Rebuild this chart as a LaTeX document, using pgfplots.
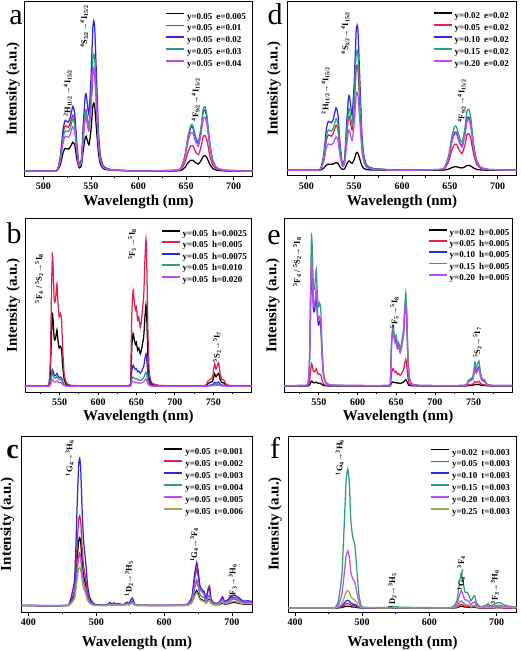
\documentclass[border=0pt]{standalone}
\usepackage{fontspec}
\setmainfont{Liberation Serif}
\usepackage{pgfplots}
\usepackage{pgfplotstable}
\pgfplotsset{compat=1.18}
\definecolor{cR}{HTML}{E41E50}
\definecolor{cB}{HTML}{2A2AE6}
\definecolor{cG}{HTML}{2E9E7C}
\definecolor{cP}{HTML}{C04CF2}
\definecolor{cO}{HTML}{9AA65A}
\newcommand{\LL}[2]{#1\hspace{4pt}#2}
\newcommand{\an}{\bfseries\fontsize{8.5}{9}\selectfont}

\pgfplotstableread{
x k r b g p
480 0 0 0 0 0
510 0 0 0 0 0
515 0.005 0.009 0.01 0.008 0.007
518 0.04 0.08 0.09 0.07 0.062
521 0.11 0.225 0.25 0.2 0.17
523 0.13 0.26 0.29 0.23 0.2
526 0.125 0.25 0.28 0.225 0.193
528 0.135 0.27 0.30 0.24 0.207
531 0.165 0.32 0.37 0.30 0.255
533 0.15 0.29 0.33 0.265 0.228
535 0.075 0.14 0.17 0.135 0.117
537 0.027 0.045 0.06 0.047 0.041
538 0.018 0.03 0.04 0.031 0.028
540 0.03 0.05 0.07 0.055 0.048
542 0.12 0.2 0.27 0.21 0.186
544 0.19 0.33 0.43 0.335 0.297
545 0.2 0.35 0.44 0.34 0.304
547 0.16 0.27 0.35 0.27 0.242
548 0.15 0.25 0.33 0.257 0.228
550 0.23 0.36 0.52 0.405 0.359
552 0.37 0.55 0.82 0.64 0.566
553 0.39 0.58 0.86 0.67 0.593
554 0.37 0.55 0.82 0.64 0.566
556 0.23 0.35 0.52 0.405 0.359
558 0.10 0.15 0.22 0.17 0.152
560 0.04 0.06 0.09 0.07 0.062
563 0.014 0.02 0.03 0.023 0.021
570 0.005 0.007 0.01 0.008 0.007
600 0 0 0 0 0
640 0.001 0.003 0.005 0.005 0.004
645 0.005 0.012 0.02 0.021 0.018
649 0.022 0.052 0.09 0.095 0.079
652 0.048 0.11 0.19 0.2 0.167
655 0.062 0.145 0.25 0.263 0.22
657 0.062 0.145 0.25 0.263 0.22
660 0.048 0.11 0.19 0.2 0.167
663 0.04 0.093 0.16 0.168 0.141
666 0.062 0.145 0.25 0.263 0.22
668 0.085 0.197 0.34 0.357 0.299
670 0.088 0.203 0.35 0.368 0.308
672 0.075 0.174 0.30 0.315 0.264
675 0.038 0.087 0.15 0.158 0.132
678 0.015 0.035 0.06 0.063 0.053
682 0.005 0.012 0.02 0.021 0.018
690 0.001 0.003 0.005 0.005 0.004
720 0 0 0 0 0
}\tabA

\pgfplotstableread{
x k r b g p
480 0 0 0 0 0
510 0 0 0 0 0
515 0.001 0.007 0.01 0.008 0.005
518 0.011 0.063 0.087 0.072 0.047
521 0.03 0.175 0.243 0.2 0.13
523 0.035 0.203 0.281 0.232 0.151
526 0.034 0.196 0.272 0.224 0.146
528 0.036 0.21 0.291 0.24 0.156
531 0.044 0.259 0.359 0.296 0.192
533 0.04 0.231 0.32 0.264 0.172
535 0.02 0.119 0.165 0.136 0.088
537 0.007 0.042 0.058 0.048 0.031
538 0.005 0.028 0.039 0.032 0.021
540 0.008 0.049 0.068 0.056 0.036
542 0.032 0.189 0.262 0.216 0.14
544 0.052 0.301 0.417 0.344 0.224
545 0.053 0.308 0.427 0.352 0.229
547 0.042 0.245 0.34 0.28 0.182
548 0.04 0.231 0.32 0.264 0.172
550 0.062 0.364 0.504 0.416 0.27
552 0.098 0.574 0.795 0.656 0.426
553 0.103 0.602 0.834 0.688 0.447
554 0.098 0.574 0.795 0.656 0.426
556 0.062 0.364 0.504 0.416 0.27
558 0.026 0.154 0.213 0.176 0.114
560 0.011 0.063 0.087 0.072 0.047
563 0.004 0.021 0.029 0.024 0.016
570 0.001 0.007 0.01 0.008 0.005
600 0 0 0 0 0
640 0 0.003 0.004 0.005 0.004
645 0.002 0.012 0.017 0.02 0.017
649 0.007 0.054 0.078 0.09 0.075
652 0.015 0.114 0.165 0.19 0.158
655 0.02 0.15 0.218 0.25 0.208
657 0.02 0.15 0.218 0.25 0.208
660 0.015 0.114 0.165 0.19 0.158
663 0.013 0.096 0.139 0.16 0.133
666 0.02 0.15 0.218 0.25 0.208
668 0.027 0.204 0.296 0.34 0.282
670 0.028 0.21 0.305 0.35 0.291
672 0.024 0.18 0.261 0.30 0.249
675 0.012 0.09 0.131 0.15 0.125
678 0.005 0.036 0.052 0.06 0.05
682 0.002 0.012 0.017 0.02 0.017
690 0 0.003 0.004 0.005 0.004
720 0 0 0 0 0
}\tabD

\pgfplotstableread{
x k r b g p
505 0 0 0 0 0
530 0.002 0.003 0 0 0
536 0.006 0.01 0.001 0.001 0
538 0.083 0.15 0.019 0.014 0.008
539.5 0.303 0.55 0.069 0.052 0.028
540.6 0.42 0.765 0.096 0.073 0.038
541.5 0.385 0.70 0.088 0.067 0.035
543 0.275 0.50 0.063 0.048 0.025
544.5 0.27 0.49 0.061 0.047 0.025
546.6 0.325 0.59 0.074 0.056 0.03
548 0.26 0.47 0.059 0.045 0.024
549.5 0.22 0.40 0.05 0.038 0.02
551 0.23 0.42 0.053 0.04 0.021
552.5 0.215 0.39 0.049 0.037 0.02
554 0.121 0.22 0.028 0.021 0.011
556 0.039 0.07 0.009 0.007 0.004
559 0.011 0.02 0.003 0.002 0.001
565 0.003 0.005 0.001 0 0
600 0.001 0.002 0 0 0
640 0.003 0.005 0.001 0 0
642.5 0.028 0.05 0.011 0.005 0.003
644 0.231 0.42 0.092 0.04 0.021
645.7 0.305 0.555 0.122 0.053 0.028
647 0.275 0.50 0.11 0.048 0.025
648.7 0.242 0.44 0.097 0.042 0.022
650 0.253 0.46 0.101 0.044 0.023
651.5 0.209 0.38 0.084 0.036 0.019
653 0.22 0.40 0.088 0.038 0.02
655 0.187 0.34 0.075 0.032 0.017
656.5 0.209 0.38 0.084 0.036 0.019
658 0.248 0.45 0.099 0.043 0.023
659.5 0.286 0.52 0.114 0.049 0.026
661 0.396 0.72 0.158 0.068 0.036
662.4 0.468 0.85 0.187 0.081 0.043
663.5 0.385 0.70 0.154 0.067 0.035
665 0.165 0.30 0.066 0.029 0.015
666.7 0.044 0.08 0.018 0.008 0.004
670 0.011 0.02 0.004 0.002 0.001
680 0.003 0.005 0.001 0 0
720 0.001 0.002 0 0 0
740 0.003 0.005 0.001 0 0
743 0.017 0.03 0.005 0.003 0.002
746 0.022 0.04 0.007 0.004 0.002
749 0.028 0.05 0.009 0.005 0.003
751.7 0.072 0.13 0.023 0.012 0.007
753.5 0.055 0.10 0.018 0.01 0.005
756.9 0.075 0.136 0.024 0.013 0.007
759 0.039 0.07 0.013 0.007 0.004
761 0.022 0.04 0.007 0.004 0.002
764 0.019 0.035 0.006 0.003 0.002
767 0.006 0.01 0.002 0.001 0.001
775 0.002 0.003 0.001 0 0
800 0.001 0.002 0 0 0
}\tabB

\pgfplotstableread{
x k r b g p
505 0 0 0 0 0
530 0 0.001 0.003 0.003 0.003
536 0 0.002 0.009 0.011 0.01
538 0.006 0.025 0.132 0.171 0.143
539.5 0.02 0.092 0.484 0.627 0.523
540.6 0.028 0.128 0.673 0.872 0.727
541.5 0.026 0.117 0.616 0.798 0.665
543 0.019 0.084 0.44 0.57 0.475
544.5 0.018 0.082 0.431 0.559 0.466
546.6 0.022 0.099 0.519 0.673 0.561
548 0.017 0.078 0.414 0.536 0.447
549.5 0.015 0.067 0.352 0.456 0.38
551 0.016 0.07 0.37 0.479 0.399
552.5 0.014 0.065 0.343 0.445 0.371
554 0.008 0.037 0.194 0.251 0.209
556 0.003 0.012 0.062 0.08 0.067
559 0.001 0.003 0.018 0.023 0.019
565 0 0.001 0.004 0.006 0.005
600 0 0 0.002 0.002 0.002
640 0 0.001 0.003 0.003 0.003
642.5 0.002 0.009 0.03 0.032 0.028
644 0.018 0.076 0.248 0.265 0.235
645.7 0.023 0.1 0.327 0.35 0.311
647 0.021 0.09 0.295 0.315 0.28
648.7 0.018 0.079 0.26 0.277 0.246
650 0.019 0.083 0.271 0.29 0.258
651.5 0.016 0.068 0.224 0.239 0.213
653 0.017 0.072 0.236 0.252 0.224
655 0.014 0.061 0.201 0.214 0.19
656.5 0.016 0.068 0.224 0.239 0.213
658 0.019 0.081 0.266 0.284 0.252
659.5 0.022 0.094 0.307 0.328 0.291
661 0.03 0.13 0.425 0.454 0.403
662.4 0.036 0.153 0.502 0.536 0.476
663.5 0.029 0.126 0.413 0.441 0.392
665 0.013 0.054 0.177 0.189 0.168
666.7 0.003 0.014 0.047 0.05 0.045
670 0.001 0.004 0.012 0.013 0.011
680 0 0.001 0.003 0.003 0.003
720 0 0 0.001 0.001 0.001
740 0 0.001 0.004 0.005 0.004
743 0.002 0.006 0.024 0.032 0.022
746 0.003 0.008 0.032 0.042 0.03
749 0.004 0.01 0.041 0.053 0.037
751.7 0.009 0.026 0.105 0.138 0.096
753.5 0.007 0.02 0.081 0.106 0.074
756.9 0.01 0.027 0.11 0.144 0.101
759 0.005 0.014 0.057 0.074 0.052
761 0.003 0.008 0.032 0.042 0.03
764 0.002 0.007 0.028 0.037 0.026
767 0.001 0.002 0.008 0.011 0.007
775 0 0.001 0.002 0.003 0.002
800 0 0 0.002 0.002 0.001
}\tabE

\pgfplotstableread{
x k r b g p o
390 0 0 0 0 0 0
455 0 0 0 0 0 0
460 0.005 0.006 0.01 0.004 0.003 0.003
463 0.023 0.031 0.05 0.018 0.017 0.013
466 0.046 0.061 0.10 0.036 0.034 0.026
468 0.069 0.092 0.15 0.054 0.051 0.039
470 0.161 0.214 0.35 0.126 0.119 0.091
472 0.276 0.366 0.60 0.216 0.204 0.156
474 0.368 0.488 0.80 0.288 0.272 0.208
475.5 0.385 0.51 0.836 0.301 0.284 0.217
477 0.359 0.476 0.78 0.281 0.265 0.203
479 0.253 0.336 0.55 0.198 0.187 0.143
481 0.175 0.232 0.38 0.137 0.129 0.099
483 0.138 0.183 0.30 0.108 0.102 0.078
485 0.101 0.134 0.22 0.079 0.075 0.057
487 0.055 0.073 0.12 0.043 0.041 0.031
490 0.023 0.031 0.05 0.018 0.017 0.013
495 0.007 0.009 0.015 0.005 0.005 0.004
500 0.002 0.003 0.005 0.002 0.002 0.001
515 0.001 0.002 0.003 0.002 0.002 0.001
520 0.007 0.011 0.018 0.009 0.009 0.005
523 0.003 0.005 0.008 0.004 0.004 0.002
526 0.006 0.01 0.016 0.008 0.008 0.005
529 0.003 0.005 0.008 0.004 0.004 0.002
532 0.005 0.007 0.012 0.006 0.006 0.004
540 0.002 0.003 0.005 0.003 0.003 0.002
545 0.008 0.012 0.02 0.01 0.01 0.006
548 0.005 0.007 0.012 0.006 0.006 0.004
553 0.017 0.026 0.043 0.022 0.022 0.013
556 0.006 0.009 0.015 0.008 0.008 0.005
560 0.001 0.002 0.003 0.002 0.002 0.001
600 0.001 0.001 0.002 0.001 0.001 0.001
630 0.001 0.003 0.003 0.002 0.002 0.001
636 0.005 0.013 0.015 0.008 0.009 0.005
641 0.018 0.043 0.05 0.028 0.03 0.015
645 0.063 0.153 0.18 0.099 0.108 0.054
648 0.086 0.208 0.245 0.135 0.147 0.074
650 0.07 0.17 0.20 0.11 0.12 0.06
653 0.039 0.094 0.11 0.061 0.09 0.033
656 0.032 0.077 0.09 0.05 0.08 0.027
659 0.028 0.068 0.08 0.044 0.06 0.024
662 0.014 0.034 0.04 0.022 0.024 0.012
665 0.032 0.10 0.09 0.05 0.054 0.027
667 0.035 0.113 0.10 0.055 0.06 0.03
669 0.014 0.04 0.04 0.022 0.024 0.012
673 0.005 0.013 0.015 0.008 0.009 0.005
680 0.005 0.012 0.015 0.009 0.011 0.006
683 0.009 0.024 0.03 0.018 0.021 0.012
686 0.015 0.04 0.05 0.03 0.035 0.02
689 0.008 0.02 0.025 0.015 0.018 0.01
693 0.009 0.024 0.03 0.018 0.021 0.012
698 0.015 0.04 0.05 0.03 0.035 0.02
703 0.018 0.048 0.06 0.036 0.042 0.024
708 0.015 0.04 0.05 0.03 0.035 0.02
713 0.011 0.028 0.035 0.021 0.025 0.014
718 0.008 0.02 0.025 0.015 0.018 0.01
723 0.008 0.022 0.028 0.017 0.02 0.011
727 0.008 0.02 0.025 0.015 0.018 0.01
730 0.007 0.018 0.022 0.013 0.015 0.009
}\tabC

\pgfplotstableread{
x k r b g p o
390 0 0 0 0 0 0
455 0 0 0 0 0 0
460 0 0 0 0.005 0.002 0.001
464 0 0.001 0.002 0.03 0.012 0.004
467 0.001 0.003 0.006 0.10 0.041 0.013
470 0.003 0.006 0.011 0.20 0.082 0.025
473 0.006 0.014 0.025 0.45 0.185 0.057
476 0.009 0.023 0.04 0.72 0.295 0.091
478.5 0.01 0.025 0.044 0.79 0.324 0.10
481 0.009 0.022 0.039 0.70 0.287 0.089
483 0.007 0.016 0.028 0.50 0.205 0.064
486 0.005 0.013 0.022 0.40 0.164 0.051
489 0.005 0.012 0.02 0.36 0.148 0.046
492 0.003 0.007 0.012 0.22 0.09 0.028
495 0.001 0.003 0.004 0.08 0.033 0.01
498 0 0.001 0.001 0.02 0.008 0.003
502 0 0 0 0.004 0.002 0.001
540 0 0 0 0.003 0.001 0
548 0.002 0 0 0.008 0.003 0.001
553 0.002 0 0 0.006 0.002 0.001
557 0 0 0 0.004 0.002 0
600 0 0 0 0.002 0.001 0
630 0 0 0 0.002 0.001 0
636 0 0 0.002 0.01 0.005 0.002
641 0.002 0.004 0.008 0.04 0.02 0.008
645 0.008 0.015 0.03 0.15 0.075 0.03
647.5 0.01 0.02 0.04 0.20 0.10 0.04
650 0.008 0.015 0.03 0.15 0.075 0.03
653 0.005 0.009 0.018 0.09 0.045 0.018
656 0.005 0.009 0.018 0.09 0.045 0.018
659 0.004 0.007 0.014 0.07 0.035 0.014
662 0.002 0.004 0.008 0.04 0.02 0.008
665 0.003 0.006 0.012 0.06 0.03 0.012
667.5 0.004 0.007 0.014 0.07 0.035 0.014
670 0.002 0.003 0.006 0.03 0.015 0.006
675 0 0.001 0.002 0.008 0.004 0.002
680 0 0 0.002 0.01 0.005 0.002
684 0 0 0.003 0.015 0.008 0.003
687.5 0 0.003 0.005 0.025 0.013 0.005
690 0 0 0.002 0.012 0.006 0.002
694 0 0 0.003 0.015 0.008 0.003
700 0.001 0.003 0.006 0.028 0.014 0.006
705 0.002 0.003 0.006 0.03 0.015 0.006
710 0 0 0.004 0.02 0.01 0.004
716 0 0 0.002 0.012 0.006 0.002
722 0 0 0.002 0.008 0.004 0.002
730 0 0 0.001 0.005 0.003 0.001
}\tabF

\pgfplotsset{
  legend image code/.code={%
    \draw[#1,line width=1.8pt] (0pt,3pt) -- (18pt,3pt);},
  panel/.style={
    scale only axis,
    axis line style={line width=0.9pt},
    ytick=\empty,
    xtick pos=bottom,
    tick align=outside,
    major tick length=3.5pt,
    minor tick length=2pt,
    every tick/.append style={line width=0.8pt, black},
    tick label style={font=\bfseries\fontsize{10}{12}\selectfont},
    /pgf/number format/assume math mode=true,
    xlabel={Wavelength (nm)},
    ylabel={Intensity (a.u.)},
    label style={font=\bfseries\fontsize{15}{17}\selectfont},
    every axis plot/.append style={line width=1.25pt, smooth, tension=0.3},
    legend cell align=left,
    legend style={draw=none, fill=none, anchor=north west, at={(0,1)},
      font=\bfseries\fontsize{9}{10}\selectfont, inner sep=0pt,
      column sep=2pt,
      nodes={inner sep=0pt, text height=6.5pt, text depth=1.5pt}},
  },
}

\begin{document}
\begin{tikzpicture}[x=1pt,y=1pt]
\useasboundingbox (0,0) rectangle (520,651);

% ---------- a ----------
\begin{axis}[panel, at={(24.3pt,474.7pt)}, anchor=south west,
  width=228.4pt, height=174.6pt,
  xmin=480, xmax=720, ymin=-0.03, ymax=0.97,
  xtick={500,550,...,700}, minor xtick={525,575,625,675},
  xlabel style={at={(axis description cs:0.5,-0.147)}, anchor=center},
  ylabel style={at={(axis description cs:-0.049,0.5)}, anchor=center},
  legend style={xshift=140.7pt, yshift=-10.7pt, row sep=3.9pt}]
\addplot[black] table[x=x,y=k]{\tabA};
\addplot[cR] table[x=x,y=r]{\tabA};
\addplot[cB] table[x=x,y=b]{\tabA};
\addplot[cG] table[x=x,y=g]{\tabA};
\addplot[cP] table[x=x,y=p]{\tabA};
\legend{\LL{y=0.05}{e=0.005},\LL{y=0.05}{e=0.01},\LL{y=0.05}{e=0.02},\LL{y=0.05}{e=0.03},\LL{y=0.05}{e=0.04}}
\node[rotate=90,font=\an] at (axis cs:525.5,0.446) {\textsuperscript{2}H\textsubscript{11/2}→\textsuperscript{4}I\textsubscript{15/2}};
\node[rotate=90,font=\an] at (axis cs:543,0.827) {\textsuperscript{4}S\textsubscript{3/2}→\textsuperscript{4}I\textsubscript{15/2}};
\node[rotate=90,font=\an] at (axis cs:660,0.408) {\textsuperscript{4}F\textsubscript{9/2}→\textsuperscript{4}I\textsubscript{15/2}};
\end{axis}

% ---------- d ----------
\begin{axis}[panel, at={(287.3pt,475.2pt)}, anchor=south west,
  width=229.4pt, height=174pt,
  xmin=480, xmax=720, ymin=-0.032, ymax=0.968,
  xtick={500,550,...,700}, minor xtick={525,575,625,675},
  xlabel style={at={(axis description cs:0.5,-0.149)}, anchor=center},
  ylabel style={at={(axis description cs:-0.058,0.5)}, anchor=center},
  legend style={xshift=145.4pt, yshift=-10pt, row sep=4.1pt}]
\addplot[black] table[x=x,y=k]{\tabD};
\addplot[cR] table[x=x,y=r]{\tabD};
\addplot[cB] table[x=x,y=b]{\tabD};
\addplot[cG] table[x=x,y=g]{\tabD};
\addplot[cP] table[x=x,y=p]{\tabD};
\legend{\LL{y=0.02}{e=0.02},\LL{y=0.05}{e=0.02},\LL{y=0.10}{e=0.02},\LL{y=0.15}{e=0.02},\LL{y=0.20}{e=0.02}}
\node[rotate=90,font=\an] at (axis cs:520,0.458) {\textsuperscript{2}H\textsubscript{11/2}→\textsuperscript{4}I\textsubscript{15/2}};
\node[rotate=90,font=\an] at (axis cs:540.7,0.788) {\textsuperscript{4}S\textsubscript{3/2}→\textsuperscript{4}I\textsubscript{15/2}};
\node[rotate=90,font=\an] at (axis cs:662.4,0.398) {\textsuperscript{4}F\textsubscript{9/2}→\textsuperscript{4}I\textsubscript{15/2}};
\end{axis}

% ---------- b ----------
\begin{axis}[panel, at={(25pt,259pt)}, anchor=south west,
  width=226.7pt, height=173.3pt,
  xmin=505, xmax=800, ymin=-0.033, ymax=0.967,
  xtick={550,600,...,750}, minor xtick={525,575,...,775},
  xlabel style={at={(axis description cs:0.5,-0.144)}, anchor=center},
  ylabel style={at={(axis description cs:-0.052,0.5)}, anchor=center},
  legend style={xshift=135.7pt, yshift=-10.7pt, row sep=3.5pt}]
\addplot[black] table[x=x,y=k]{\tabB};
\addplot[cR] table[x=x,y=r]{\tabB};
\addplot[cB] table[x=x,y=b]{\tabB};
\addplot[cG] table[x=x,y=g]{\tabB};
\addplot[cP] table[x=x,y=p]{\tabB};
\legend{\LL{y=0.05}{h=0.0025},\LL{y=0.05}{h=0.005},\LL{y=0.05}{h=0.0075},\LL{y=0.05}{h=0.010},\LL{y=0.05}{h=0.020}}
\node[rotate=90,font=\an] at (axis cs:523.4,0.621) {\textsuperscript{5}F\textsubscript{4} / \textsuperscript{5}S\textsubscript{2}→\textsuperscript{5}I\textsubscript{8}};
\node[rotate=90,font=\an] at (axis cs:644.4,0.819) {\textsuperscript{5}F\textsubscript{5}→\textsuperscript{5}I\textsubscript{8}};
\node[rotate=90,font=\an] at (axis cs:754.7,0.227) {\textsuperscript{5}S\textsubscript{2}→\textsuperscript{5}I\textsubscript{7}};
\end{axis}

% ---------- e ----------
\begin{axis}[panel, at={(284pt,259pt)}, anchor=south west,
  width=228.3pt, height=173.3pt,
  xmin=505, xmax=800, ymin=-0.035, ymax=0.965,
  xtick={550,600,...,750}, minor xtick={525,575,...,775},
  xlabel style={at={(axis description cs:0.5,-0.144)}, anchor=center},
  ylabel style={at={(axis description cs:-0.049,0.5)}, anchor=center},
  legend style={xshift=143.7pt, yshift=-10pt, row sep=3.2pt}]
\addplot[black] table[x=x,y=k]{\tabE};
\addplot[cR] table[x=x,y=r]{\tabE};
\addplot[cB] table[x=x,y=b]{\tabE};
\addplot[cG] table[x=x,y=g]{\tabE};
\addplot[cP] table[x=x,y=p]{\tabE};
\legend{\LL{y=0.02}{h=0.005},\LL{y=0.05}{h=0.005},\LL{y=0.10}{h=0.005},\LL{y=0.15}{h=0.005},\LL{y=0.20}{h=0.005}}
\node[rotate=90,font=\an] at (axis cs:522,0.715) {\textsuperscript{5}F\textsubscript{4} / \textsuperscript{5}S\textsubscript{2}→\textsuperscript{5}I\textsubscript{8}};
\node[rotate=90,font=\an] at (axis cs:647.9,0.423) {\textsuperscript{5}F\textsubscript{5}→\textsuperscript{5}I\textsubscript{8}};
\node[rotate=90,font=\an] at (axis cs:755,0.25) {\textsuperscript{5}S\textsubscript{2}→\textsuperscript{5}I\textsubscript{7}};
\end{axis}

% ---------- c ----------
\begin{axis}[panel, at={(21.7pt,38.7pt)}, anchor=south west,
  width=230.6pt, height=176.3pt,
  xmin=390, xmax=730, ymin=-0.038, ymax=0.962,
  xtick={400,500,600,700}, minor xtick={450,550,650},
  xlabel style={at={(axis description cs:0.5,-0.174)}, anchor=center},
  ylabel style={at={(axis description cs:-0.062,0.5)}, anchor=center},
  legend style={xshift=141.6pt, yshift=-12pt, row sep=3.9pt}]
\addplot[black] table[x=x,y=k]{\tabC};
\addplot[cR] table[x=x,y=r]{\tabC};
\addplot[cB] table[x=x,y=b]{\tabC};
\addplot[cG] table[x=x,y=g]{\tabC};
\addplot[cP] table[x=x,y=p]{\tabC};
\addplot[cO] table[x=x,y=o]{\tabC};
\legend{\LL{y=0.05}{t=0.001},\LL{y=0.05}{t=0.002},\LL{y=0.05}{t=0.003},\LL{y=0.05}{t=0.004},\LL{y=0.05}{t=0.005},\LL{y=0.05}{t=0.006}}
\node[rotate=90,font=\an] at (axis cs:460.7,0.836) {\textsuperscript{1}G\textsubscript{4}→\textsuperscript{3}H\textsubscript{6}};
\node[rotate=90,font=\an] at (axis cs:548,0.152) {\textsuperscript{1}D\textsubscript{2}→\textsuperscript{3}H\textsubscript{5}};
\node[rotate=90,font=\an] at (axis cs:644.4,0.345) {\textsuperscript{1}G\textsubscript{4}→\textsuperscript{3}F\textsubscript{4}};
\node[rotate=90,font=\an] at (axis cs:701,0.137) {\textsuperscript{3}F\textsubscript{3}→\textsuperscript{3}H\textsubscript{6}};
\end{axis}

% ---------- f ----------
\begin{axis}[panel, at={(288.3pt,39pt)}, anchor=south west,
  width=228.4pt, height=176pt,
  xmin=390, xmax=730, ymin=-0.023, ymax=0.977,
  xtick={400,500,600,700}, minor xtick={450,550,650},
  xlabel style={at={(axis description cs:0.5,-0.178)}, anchor=center},
  ylabel style={at={(axis description cs:-0.058,0.5)}, anchor=center},
  legend style={xshift=141.7pt, yshift=-12.3pt, row sep=3.9pt}]
\addplot[black] table[x=x,y=k]{\tabF};
\addplot[cR] table[x=x,y=r]{\tabF};
\addplot[cB] table[x=x,y=b]{\tabF};
\addplot[cG] table[x=x,y=g]{\tabF};
\addplot[cP] table[x=x,y=p]{\tabF};
\addplot[cO] table[x=x,y=o]{\tabF};
\legend{\LL{y=0.02}{t=0.003},\LL{y=0.05}{t=0.003},\LL{y=0.10}{t=0.003},\LL{y=0.15}{t=0.003},\LL{y=0.20}{t=0.003},\LL{y=0.25}{t=0.003}}
\node[rotate=90,font=\an] at (axis cs:466.5,0.854) {\textsuperscript{1}G\textsubscript{4}→\textsuperscript{3}H\textsubscript{6}};
\node[rotate=90,font=\an] at (axis cs:545,0.098) {\textsuperscript{1}D\textsubscript{2}→\textsuperscript{3}H\textsubscript{5}};
\node[rotate=90,font=\an] at (axis cs:647.5,0.197) {\textsuperscript{1}G\textsubscript{4}→\textsuperscript{3}F\textsubscript{4}};
\node[rotate=90,font=\an] at (axis cs:697.5,0.117) {\textsuperscript{3}F\textsubscript{3}→\textsuperscript{3}H\textsubscript{6}};
\end{axis}

% panel letters
\node[anchor=base, font=\fontsize{30}{30}\selectfont] at (16,626) {a};
\node[anchor=base, font=\fontsize{30}{30}\selectfont] at (275,626) {d};
\node[anchor=base, font=\fontsize{30}{30}\selectfont] at (14,407) {b};
\node[anchor=base, font=\fontsize{30}{30}\selectfont] at (274,406) {e};
\node[anchor=base, font=\bfseries\fontsize{28}{28}\selectfont] at (12.5,192) {c};
\node[anchor=base, font=\fontsize{30}{30}\selectfont] at (275,192) {f};
\end{tikzpicture}
\end{document}
